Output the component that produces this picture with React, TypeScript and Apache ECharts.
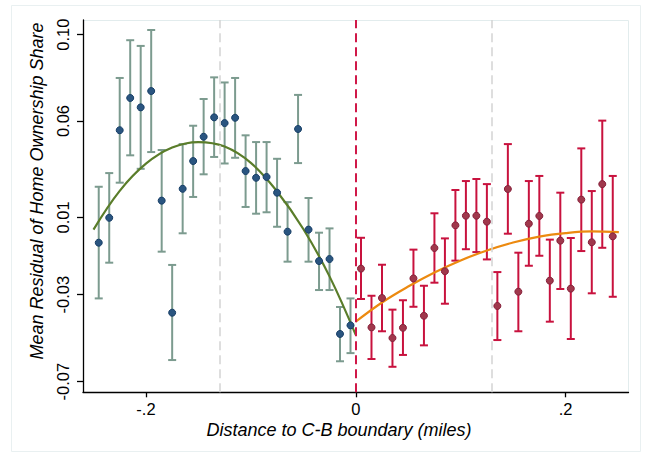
import React, { useEffect, useRef } from "react";
import * as echarts from "echarts";

// Bin centres (miles) and bin means with confidence bounds
const leftX = [-0.245, -0.235, -0.225, -0.215, -0.205, -0.195, -0.185, -0.175, -0.165, -0.155, -0.145, -0.135, -0.125, -0.115, -0.105, -0.095, -0.085, -0.075, -0.065, -0.055, -0.045, -0.035, -0.025, -0.015, -0.005];
const leftMean = [-0.0019, 0.0103, 0.0532, 0.069, 0.0644, 0.0724, 0.0187, -0.0362, 0.0245, 0.0381, 0.05, 0.0595, 0.0567, 0.0593, 0.0332, 0.0299, 0.0303, 0.0226, 0.0035, 0.0538, 0.0045, -0.0109, -0.0099, -0.0466, -0.0424];
const leftLow = [-0.0292, -0.0117, 0.0275, 0.0409, 0.0343, 0.0425, -0.0063, -0.0594, 0.0027, 0.0205, 0.0316, 0.0401, 0.0369, 0.0397, 0.0156, 0.0123, 0.013, 0.0059, -0.0112, 0.0371, -0.0112, -0.0251, -0.0251, -0.06, -0.056];
const leftHigh = [0.0255, 0.0322, 0.0788, 0.0973, 0.0945, 0.1023, 0.0435, -0.0128, 0.0464, 0.0554, 0.0685, 0.0791, 0.0766, 0.0788, 0.0507, 0.0474, 0.0474, 0.0392, 0.018, 0.0705, 0.02, 0.003, 0.0051, -0.0334, -0.0292];

const rightX = [0.005, 0.015, 0.025, 0.035, 0.045, 0.055, 0.065, 0.075, 0.085, 0.095, 0.105, 0.115, 0.125, 0.135, 0.145, 0.155, 0.165, 0.175, 0.185, 0.195, 0.205, 0.215, 0.225, 0.235, 0.245];
const rightMean = [-0.0146, -0.0434, -0.029, -0.0486, -0.0436, -0.0194, -0.0377, -0.0045, -0.0159, 0.0066, 0.0113, 0.0113, 0.0084, -0.0329, 0.0244, -0.0259, 0.0074, 0.0112, -0.0205, -0.0009, -0.0244, 0.0192, -0.0017, 0.0268, 0.0012];
const rightLow = [-0.0295, -0.0589, -0.0453, -0.0627, -0.0569, -0.0333, -0.0522, -0.0215, -0.0318, -0.0107, -0.0051, -0.0065, -0.0101, -0.0496, 0.0025, -0.0453, -0.0132, -0.0083, -0.0406, -0.0246, -0.0491, -0.006, -0.0267, -0.0044, -0.0284];
const rightHigh = [0.0005, -0.0279, -0.0127, -0.0347, -0.0301, -0.0053, -0.023, 0.0125, 0.0002, 0.0239, 0.0283, 0.0293, 0.0268, -0.0163, 0.0464, -0.0068, 0.0283, 0.0308, -0.0004, 0.0226, 0.0004, 0.0443, 0.0234, 0.0579, 0.0308];

// Fitted curves
const leftFitX = [-0.25, -0.225, -0.2, -0.175, -0.15, -0.125, -0.1, -0.075, -0.05, -0.025, 0];
const leftFitY = [0.0045, 0.0235, 0.0368, 0.0447, 0.0474, 0.0452, 0.0372, 0.0232, 0.0048, -0.0184, -0.0471];
const rightFitX = [0, 0.025, 0.05, 0.075, 0.1, 0.125, 0.15, 0.175, 0.2, 0.225, 0.2508];
const rightFitY = [-0.0406, -0.0312, -0.0234, -0.0165, -0.0106, -0.0057, -0.0018, 0.0011, 0.0028, 0.0036, 0.0033];

// Tick values
const xTicks = [-0.2, 0, 0.2];
const yTicks = [-0.07, -0.0274, 0.0105, 0.0577, 0.1];
const refLines = [-0.125, 0, 0.125];

const FONT = "'Liberation Sans', Arial, sans-serif";

export default function App() {
  const ref = useRef<HTMLDivElement>(null);
  useEffect(() => {
    const chart = echarts.init(ref.current!, null, { renderer: "svg" });
    const errRender = (color: string) => (params: any, api: any) => {
      const x = api.value(0);
      const lo = api.value(1);
      const hi = api.value(2);
      const p1 = api.coord([x, lo]);
      const p2 = api.coord([x, hi]);
      const w = 4;
      const st = { stroke: color, lineWidth: 2 };
      return {
        type: "group",
        children: [
          { type: "line", shape: { x1: p1[0], y1: p1[1], x2: p2[0], y2: p2[1] }, style: st },
          { type: "line", shape: { x1: p1[0] - w, y1: p1[1], x2: p1[0] + w, y2: p1[1] }, style: st },
          { type: "line", shape: { x1: p2[0] - w, y1: p2[1], x2: p2[0] + w, y2: p2[1] }, style: st },
        ],
      };
    };
    const grayLine = { color: "#d4d4d4", width: 1.5, type: [9, 5] as any };
    const redLine = { color: "#d01848", width: 2, type: [9, 5] as any };
    chart.setOption({
      animation: false,
      backgroundColor: "#ffffff",
      grid: { left: 83, right: 18.5, top: 20, bottom: 66.7 },
      xAxis: {
        type: "value",
        min: -0.26,
        max: 0.26,
        splitLine: { show: false },
        axisLine: { show: true, onZero: false, lineStyle: { color: "#000", width: 1.3 } },
        axisTick: { show: true, length: 5, lineStyle: { color: "#000", width: 1.3 }, customValues: xTicks },
        axisLabel: {
          customValues: xTicks,
          color: "#000",
          fontFamily: FONT,
          fontSize: 16.5,
          margin: 8,
          formatter: (v: number) => (Math.abs(v) < 1e-9 ? "0" : v.toFixed(1).replace("0.", ".")),
        },
      },
      yAxis: {
        type: "value",
        min: -0.0752,
        max: 0.1072,
        splitLine: { show: false },
        axisLine: { show: true, onZero: false, lineStyle: { color: "#000", width: 1.3 } },
        axisTick: { show: true, length: 6, lineStyle: { color: "#000", width: 1.3 }, customValues: yTicks },
        axisLabel: {
          customValues: yTicks,
          rotate: 90,
          color: "#000",
          fontFamily: FONT,
          fontSize: 16.5,
          margin: 12,
          formatter: (v: number) => v.toFixed(2),
        },
      },
      graphic: [
        { type: "rect", shape: { x: 11.5, y: 5.5, width: 629, height: 446 }, style: { fill: "none", stroke: "#e9f0f1", lineWidth: 1 }, silent: true, z: -10 },
        { type: "rect", shape: { x: 83.5, y: 20.5, width: 545, height: 372 }, style: { fill: "none", stroke: "#e2eced", lineWidth: 1 }, silent: true, z: -10 },
        {
          type: "text",
          x: 37,
          y: 191,
          rotation: Math.PI / 2,
          style: { text: "Mean Residual of Home Ownership Share", font: `italic 18px ${FONT}`, fill: "#000", align: "center", verticalAlign: "middle", textAlign: "center", textVerticalAlign: "middle" } as any,
        },
        {
          type: "text",
          x: 339,
          y: 430,
          style: { text: "Distance to C-B boundary (miles)", font: `italic 18px ${FONT}`, fill: "#000", align: "center", verticalAlign: "middle", textAlign: "center", textVerticalAlign: "middle" } as any,
        },
      ],
      series: [
        {
          type: "line",
          data: [],
          silent: true,
          markLine: {
            silent: true,
            symbol: ["none", "none"],
            label: { show: false },
            data: refLines.map((v) => ({ xAxis: v, lineStyle: v === 0 ? redLine : grayLine })),
          },
        },
        {
          type: "custom",
          renderItem: errRender("#7c9b8f"),
          encode: { x: 0, y: [1, 2] },
          data: leftX.map((x, i) => [x, leftLow[i], leftHigh[i]]),
          z: 2,
        },
        {
          type: "custom",
          renderItem: errRender("#c8123e"),
          encode: { x: 0, y: [1, 2] },
          data: rightX.map((x, i) => [x, rightLow[i], rightHigh[i]]),
          z: 2,
        },
        {
          type: "line",
          data: leftFitX.map((x, i) => [x, leftFitY[i]]),
          smooth: 0.4,
          showSymbol: false,
          lineStyle: { color: "#5a7d2a", width: 2.2 },
          z: 3,
        },
        {
          type: "line",
          data: rightFitX.map((x, i) => [x, rightFitY[i]]),
          smooth: 0.4,
          showSymbol: false,
          lineStyle: { color: "#ec8a10", width: 2.2 },
          z: 3,
        },
        {
          type: "scatter",
          data: leftX.map((x, i) => [x, leftMean[i]]),
          symbol: "circle",
          symbolSize: 7,
          itemStyle: { color: "#2a5580", borderColor: "#173e66", borderWidth: 1, opacity: 1 },
          z: 4,
        },
        {
          type: "scatter",
          data: rightX.map((x, i) => [x, rightMean[i]]),
          symbol: "circle",
          symbolSize: 7,
          itemStyle: { color: "#a0384c", borderColor: "#86203a", borderWidth: 1, opacity: 1 },
          z: 4,
        },
      ],
    });
    return () => chart.dispose();
  }, []);
  return (
    <div
      ref={ref}
      style={{ position: "fixed", left: 0, top: 0, width: 647, height: 459, background: "#fff" }}
    />
  );
}
